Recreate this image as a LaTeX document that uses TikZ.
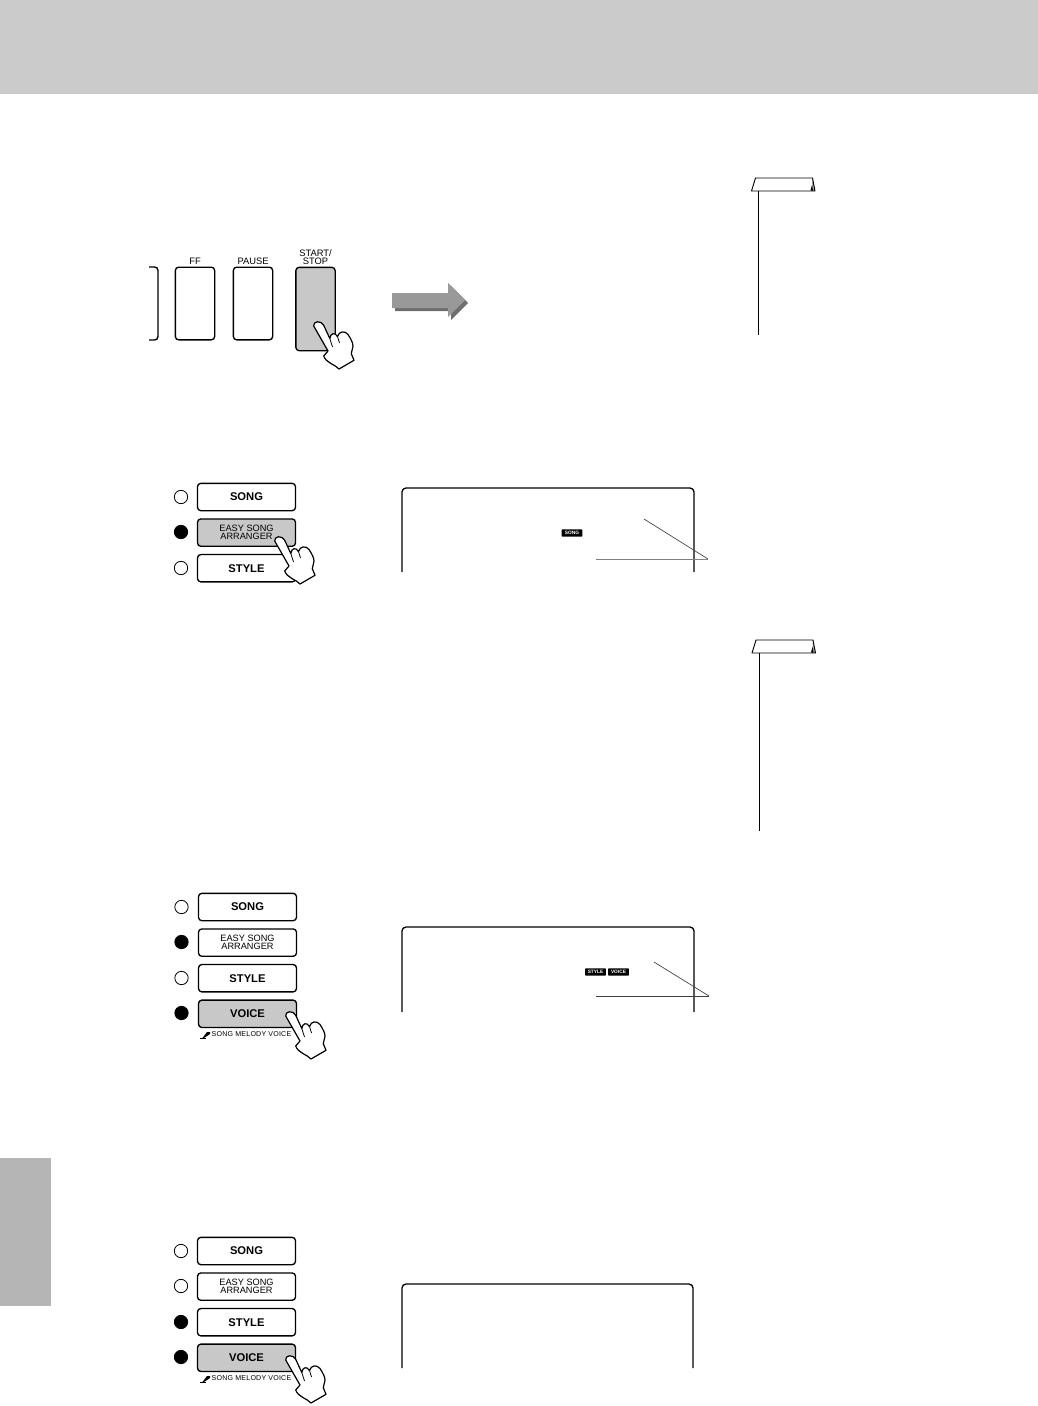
\documentclass[tikz,border=0pt]{standalone}
\usepackage{fontspec}
\setmainfont{Liberation Sans}
\usetikzlibrary{arrows.meta, positioning, calc}
\definecolor{bandgray}{HTML}{CBCBCB}
\definecolor{tabgray}{HTML}{B5B5B5}
\definecolor{keygray}{HTML}{C8C8C8}
\definecolor{arrowgray}{HTML}{999999}
\definecolor{arrowdark}{HTML}{6E6E6E}
\tikzset{
  btn/.style={draw, line width=1pt, rounded corners=2.5pt, minimum width=73.5pt, minimum height=20.5pt,
    inner sep=0pt, align=center, font=\fontsize{8.4}{8.4}\selectfont\bfseries},
  btnsmall/.style={btn, font=\fontsize{6.9}{6}\selectfont},
  btnon/.style={fill=keygray},
  key/.style={draw, line width=1pt, rounded corners=2.5pt, minimum width=29.5pt, minimum height=54.5pt, inner sep=0pt},
  keylabel/.style={inner sep=0pt, align=center, font=\fontsize{7}{6}\selectfont},
  led/.style={circle, draw, line width=0.6pt, minimum size=10pt, inner sep=0pt},
  ledon/.style={led, fill=black},
  screen/.style={line width=1pt, rounded corners=3pt},
  callout/.style={line width=0.5pt, black!75},
  icon/.style={fill=black, text=white, rounded corners=0.5pt, inner sep=0pt, minimum width=15.5pt,
    minimum height=5.5pt, font=\fontsize{3.6}{3.6}\selectfont\bfseries},
  caption/.style={inner sep=0pt, font=\fontsize{5.3}{5.3}\selectfont\addfontfeatures{LetterSpace=3}},
  pics/hand/.style={code={
    \draw[fill=white, line width=0.9pt, line join=round]
      (-4.3,4) .. controls (-5,-1) and (3,-2) .. (5.7,3.3) -- (11.8,16.5)
      .. controls (12.5,11) and (17,10) .. (19.5,14.5)
      .. controls (21,9) and (27,8.5) .. (30,12.5)
      .. controls (33,17) and (35,21) .. (35,24) -- (33.3,31.7) -- (36,38.3)
      -- (21,47) .. controls (18,43) and (8,41) .. (5.7,34) -- (10,29) -- cycle;
    \draw[line width=0.6pt] (11.8,16.5) -- (14.5,25) (19.5,14.5) -- (21.5,21);
  }},
  pics/mic/.style={code={
    \draw[line width=0.6pt] (0,5) -- (6,5);
    \fill (2.5,5) -- (7,-1) -- (10,-1) -- (10,1) -- (4,5) -- cycle;
  }},
  pics/notetab/.style={code={
    \fill[black!35] (61,0) -- (63.5,13) -- (60,13) -- cycle;
    \draw[line width=0.7pt, line join=round] (4,0) -- (61,0) -- (63.5,13) -- (0,13) -- cycle;
    \fill (60.5,7) -- (61.5,12.5) -- (59,12.5) -- cycle;
  }},
}
\begin{document}
\begin{tikzpicture}[x=0.75pt, y=-0.75pt, node distance=5.2pt]
  \useasboundingbox (0,0) rectangle (1038,1406);
  \fill[bandgray] (0,0) rectangle (1038,94);
  \fill[tabgray] (0,1158) rectangle (51,1306);

  % transport keys
  \draw[line width=1pt, rounded corners=2.5pt] (149,267) -- (158,267) -- (158,340) -- (149,340);
  \node[key] (ff) at (195,303.5) {};
  \node[key] (pause) at (253,303.5) {};
  \node[key, btnon, minimum height=62.5pt] (startstop) at (315.5,309) {};
  \node[keylabel, above=1pt of ff] (fflabel) {FF};
  \node[keylabel, above=1pt of pause] (pauselabel) {PAUSE};
  \node[keylabel, above=1pt of startstop] (startlabel) {START/\\STOP};
  \pic at (318,322) {hand};

  % big arrow
  \fill[arrowdark] (395,296) -- (451,296) -- (451,286) -- (468,303) -- (451,320) -- (451,311) -- (395,311) -- cycle;
  \fill[arrowgray] (392,293) -- (448,293) -- (448,283) -- (465,300) -- (448,317) -- (448,308) -- (392,308) -- cycle;

  % note tabs
  \pic at (751.5,178) {notetab};
  \pic at (752,640) {notetab};
  \coordinate (note1) at (758,191);
  \coordinate (note1end) at (758,335);
  \coordinate (note2) at (759,653);
  \coordinate (note2end) at (759,831);
  \draw[line width=0.7pt] (note1) -- (note1end);
  \draw[line width=0.7pt] (note2) -- (note2end);

  % first button group
  \node[btn] (songA) at (246.5,497) {SONG};
  \node[btnsmall, btnon, below=of songA] (easyA) {EASY SONG\\ARRANGER};
  \node[btn, below=of easyA] (styleA) {STYLE};
  \node[led] (ledA1) at (181,497) {};
  \node[ledon] (ledA2) at (181,532) {};
  \node[led] (ledA3) at (181,568) {};
  \pic at (279,537) {hand};

  % first display
  \draw[screen] (402,572) -- (402,488) -- (694,488) -- (694,572);
  \node[icon] (iconsong) at (572,533) {SONG};
  \coordinate (tipA) at (708,559);
  \coordinate (armA1) at (644,519);
  \coordinate (armA2) at (596,559);
  \draw[callout] (armA1) -- (tipA);
  \draw[callout, black!50] (armA2) -- (tipA);

  % second button group
  \node[btn] (songB) at (247.5,907) {SONG};
  \node[btnsmall, below=of songB] (easyB) {EASY SONG\\ARRANGER};
  \node[btn, below=of easyB] (styleB) {STYLE};
  \node[btn, btnon, below=of styleB] (voiceB) {VOICE};
  \node[led] (ledB1) at (181.5,907) {};
  \node[ledon] (ledB2) at (181.5,942) {};
  \node[led] (ledB3) at (181.5,978) {};
  \node[ledon] (ledB4) at (181.5,1013) {};
  \node[caption] (capB) at (251.5,1034) {SONG MELODY VOICE};
  \pic at (200,1033) {mic};
  \pic at (290,1012) {hand};

  % second display
  \draw[screen] (402,1012) -- (402,927) -- (694,927) -- (694,1012);
  \node[icon] (iconstyle) at (595.5,972) {STYLE};
  \node[icon] (iconvoice) at (618.5,972) {VOICE};
  \coordinate (tipB) at (709,996);
  \coordinate (armB1) at (654,962);
  \coordinate (armB2) at (596,996);
  \draw[callout] (armB1) -- (tipB);
  \draw[callout] (armB2) -- (tipB);

  % third button group
  \node[btn] (songC) at (246.5,1251) {SONG};
  \node[btnsmall, below=of songC] (easyC) {EASY SONG\\ARRANGER};
  \node[btn, below=of easyC] (styleC) {STYLE};
  \node[btn, btnon, below=of styleC] (voiceC) {VOICE};
  \node[led] (ledC1) at (181,1251) {};
  \node[led] (ledC2) at (181,1286) {};
  \node[ledon] (ledC3) at (181,1322) {};
  \node[ledon] (ledC4) at (181,1357) {};
  \node[caption] (capC) at (251.5,1378) {SONG MELODY VOICE};
  \pic at (200,1377) {mic};
  \pic at (290,1356) {hand};

  % third display
  \draw[screen] (402,1368) -- (402,1284) -- (693,1284) -- (693,1368);
\end{tikzpicture}
\end{document}
